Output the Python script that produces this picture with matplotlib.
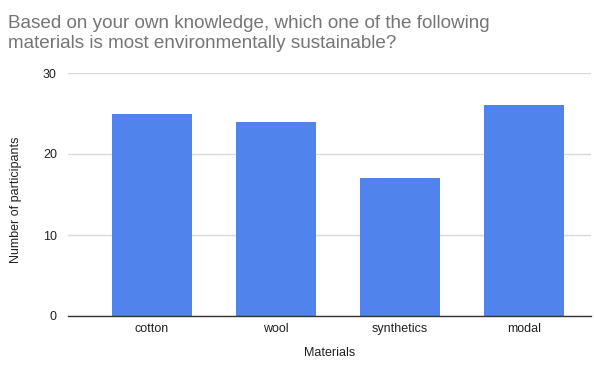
import matplotlib
matplotlib.use("Agg")
import matplotlib.pyplot as plt

plt.rcParams['font.family'] = ['Liberation Sans', 'DejaVu Sans']

materials = ["cotton", "wool", "synthetics", "modal"]
participants = [25, 24, 17, 26]
y_ticks = [0, 10, 20, 30]
title_lines = ["Based on your own knowledge, which one of the following",
               "materials is most environmentally sustainable?"]

W, H = 594, 366
fig = plt.figure(figsize=(W / 100, H / 100), dpi=100)
ax = fig.add_axes([68 / W, 1 - 316 / H, (591 - 68) / W, (316 - 73) / H])

x = list(range(len(materials)))
ax.bar(x, participants, width=0.645, color="#5083EC", zorder=3)

ax.set_xlim(-0.677, 3.54)
ax.set_ylim(0, 30)
ax.set_yticks(y_ticks)
ax.set_xticks(x)
ax.set_xticklabels(materials)
ax.grid(axis="y", color="#d9d9d9", linewidth=1, zorder=0)
ax.tick_params(axis="both", length=0, labelsize=9, colors="#222222")
ax.tick_params(axis="y", pad=8)
ax.tick_params(axis="x", pad=5)
for side in ["top", "right", "left"]:
    ax.spines[side].set_visible(False)
ax.spines["bottom"].set_color("#333333")
ax.spines["bottom"].set_linewidth(1)
ax.spines["bottom"].set_zorder(4)

ax.set_xlabel("Materials", fontsize=9, color="#222222", labelpad=9)
ax.set_ylabel("Number of participants", fontsize=9, color="#222222")
ax.yaxis.set_label_coords(-0.087, 0.477)

for i, line in enumerate(title_lines):
    fig.text(8 / W, 1 - (28 + 19.5 * i) / H, line,
             ha="left", va="baseline", fontsize=13.6, color="#757575")

fig.savefig("out.png", dpi=100)
